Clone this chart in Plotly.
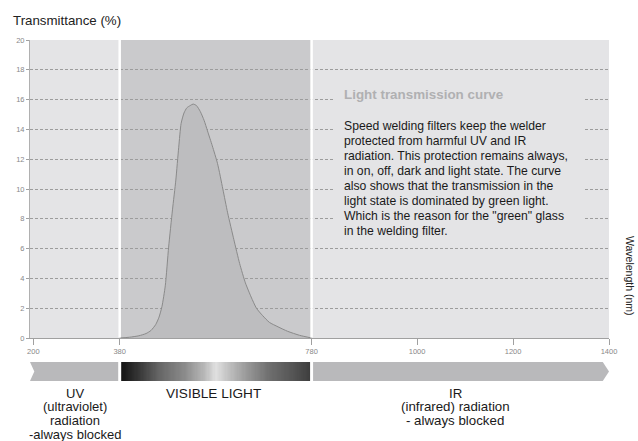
import numpy as np
import plotly.graph_objects as go

# ---------------- data ----------------
WAVELENGTH = [380, 400, 420, 435, 445, 455, 462, 468, 475, 482, 490, 497, 503, 508, 514,
              520, 527, 533, 540, 548, 556, 563, 573, 584, 595, 605, 618, 630, 642, 654,
              665, 678, 692, 710, 730, 755, 780]
TRANSMITTANCE = [0, 0.05, 0.15, 0.3, 0.5, 0.9, 1.4, 2.1, 3.5, 6.1, 8.6, 10.6, 12.8, 14.4, 15.1,
                 15.45, 15.6, 15.7, 15.6, 15.2, 14.6, 13.9, 12.9, 11.7, 10.0, 8.4, 6.6, 5.0, 3.7, 2.75,
                 2.0, 1.5, 1.05, 0.75, 0.45, 0.18, 0]
X_TICKS = [200, 380, 780, 1000, 1200, 1400]
Y_TICKS = [0, 2, 4, 6, 8, 10, 12, 14, 16, 18, 20]
REGION_EDGES = [200, 380, 780, 1400]     # UV | visible | IR
X_RANGE = [193, 1400]
Y_RANGE = [0, 20]
# gradient of the visible-light strip: (relative position, grey level)
GRAD_POS = [0.0, 0.03, 0.1, 0.2, 0.34, 0.44, 0.5, 0.55, 0.66, 0.78, 0.9, 1.0]
GRAD_GREY = [18, 28, 55, 100, 140, 184, 224, 200, 153, 110, 85, 60]

TITLE = "Transmittance (%)"
X_TITLE = "Wavelength (nm)"
BOX_TITLE = "Light transmission curve"
BOX_LINES = [
    "Speed welding filters keep the welder",
    "protected from harmful UV and IR",
    "radiation. This protection remains always,",
    "in on, off, dark and light state. The curve",
    "also shows that the transmission in the",
    "light state is dominated by green light.",
    "Which is the reason for the \"green\" glass",
    "in the welding filter.",
]
UV_LINES = ["UV", "(ultraviolet)", "radiation", "-always blocked"]
VIS_LINES = ["VISIBLE LIGHT"]
IR_LINES = ["IR", "(infrared) radiation", "- always blocked"]

# ---------------- layout constants ----------------
W, H = 638, 441
ML, MR, MT, MB = 30, 29, 40, 60
PW, PH = W - ML - MR, H - MT - MB
FONT = "Liberation Sans, Arial, Helvetica, sans-serif"
LIGHT_BG = "#e4e4e6"
DARK_BG = "#cacacc"


def px_x(p):
    return (p - ML) / PW


def px_y(p):
    return (H - MB - p) / PH


main_bottom = px_y(338)
band_top = px_y(362)

fig = go.Figure()

# transmission curve
fig.add_trace(go.Scatter(
    x=WAVELENGTH, y=TRANSMITTANCE, mode="lines", fill="tozeroy",
    fillcolor="#bdbdbf", line=dict(color="#8a8a8a", width=1, shape="spline", smoothing=0.6),
    hoverinfo="skip", showlegend=False, xaxis="x", yaxis="y"))

# visible light gradient strip
edges = np.linspace(REGION_EDGES[1], REGION_EDGES[2], 161)
centers = (edges[:-1] + edges[1:]) / 2
colorscale = [[p, f"rgb({g},{g},{g})"] for p, g in zip(GRAD_POS, GRAD_GREY)]
fig.add_trace(go.Heatmap(
    x=edges, y=[0, 1], z=[centers], zmin=REGION_EDGES[1], zmax=REGION_EDGES[2],
    colorscale=colorscale, showscale=False, hoverinfo="skip", xaxis="x", yaxis="y2"))

shapes = []
# background regions
shapes.append(dict(type="rect", xref="x domain", yref="y domain", x0=0, x1=1, y0=0, y1=1,
                   fillcolor=LIGHT_BG, line=dict(width=0), layer="below"))
shapes.append(dict(type="rect", xref="x", yref="y domain", x0=REGION_EDGES[1], x1=REGION_EDGES[2],
                   y0=0, y1=1, fillcolor=DARK_BG, line=dict(width=0), layer="below"))
# white separators in the plot
for xv in REGION_EDGES[1:3]:
    shapes.append(dict(type="line", xref="x", yref="y domain", x0=xv, x1=xv, y0=0.002, y1=1,
                       line=dict(color="white", width=2.5), layer="above"))
# UV band (notched) and IR band (arrow)
x0 = X_RANGE[0]
shapes.append(dict(type="path", xref="x", yref="y2",
                   path=f"M {x0},0 L {REGION_EDGES[1]},0 L {REGION_EDGES[1]},1 L {x0},1 L {x0 + 9},0.5 Z",
                   fillcolor="#b9b9bb", line=dict(width=0), layer="above"))
xe = REGION_EDGES[3]
shapes.append(dict(type="path", xref="x", yref="y2",
                   path=f"M {REGION_EDGES[2]},0 L {xe - 13},0 L {xe},0.5 L {xe - 13},1 L {REGION_EDGES[2]},1 Z",
                   fillcolor="#b9b9bb", line=dict(width=0), layer="above"))
for xv in REGION_EDGES[1:3]:
    shapes.append(dict(type="line", xref="x", yref="y2", x0=xv, x1=xv, y0=0, y1=1,
                       line=dict(color="white", width=3), layer="above"))
# text box masking the grid lines
shapes.append(dict(type="rect", xref="paper", yref="paper", x0=px_x(335), x1=px_x(583),
                   y0=px_y(238), y1=px_y(88), fillcolor=LIGHT_BG, line=dict(width=0), layer="above"))

annotations = []
annotations.append(dict(text=TITLE, xref="paper", yref="paper", x=px_x(11), y=px_y(20),
                        xanchor="left", yanchor="middle", showarrow=False,
                        font=dict(family=FONT, size=13.3, color="#222")))
annotations.append(dict(text=X_TITLE, xref="paper", yref="paper", x=px_x(630), y=px_y(276),
                        xanchor="center", yanchor="middle", showarrow=False, textangle=90,
                        font=dict(family=FONT, size=10.5, color="#222")))
annotations.append(dict(text="<b>" + BOX_TITLE + "</b>", xref="paper", yref="paper", x=px_x(342), y=px_y(95),
                        xanchor="left", yanchor="middle", showarrow=False,
                        font=dict(family=FONT, size=13.4, color="#b0b0b2")))
for i, line in enumerate(BOX_LINES):
    annotations.append(dict(text=line, xref="paper", yref="paper", x=px_x(342), y=px_y(125.7 + 15 * i),
                            xanchor="left", yanchor="middle", showarrow=False,
                            font=dict(family=FONT, size=12.2, color="#1a1a1a")))


def add_block(lines, cx, y_first, step, size):
    for i, line in enumerate(lines):
        annotations.append(dict(text=line, xref="paper", yref="paper", x=px_x(cx), y=px_y(y_first + step * i),
                                xanchor="center", yanchor="middle", showarrow=False,
                                font=dict(family=FONT, size=size, color="#1a1a1a")))


add_block(UV_LINES, 75, 393, 13.7, 13)
add_block(VIS_LINES, 213, 393, 13.7, 13.6)
add_block(IR_LINES, 455, 393, 13.9, 13.3)

fig.update_layout(
    width=W, height=H, margin=dict(l=ML, r=MR, t=MT, b=MB, pad=0),
    paper_bgcolor="white", plot_bgcolor="white",
    shapes=shapes, annotations=annotations, showlegend=False,
    xaxis=dict(range=X_RANGE, domain=[0, 1], anchor="y", tickmode="array", tickvals=X_TICKS,
               ticktext=[str(v) for v in X_TICKS], tickfont=dict(family=FONT, size=7.5, color="#888"),
               ticks="outside", ticklen=6, tickcolor="#a0a0a0", tickwidth=1,
               showline=True, linecolor="#a0a0a0", linewidth=1, showgrid=False, zeroline=False),
    yaxis=dict(range=Y_RANGE, domain=[main_bottom, 1], anchor="x", tickmode="array", tickvals=Y_TICKS,
               tickfont=dict(family=FONT, size=7.5, color="#888"),
               ticks="outside", ticklen=3, tickcolor="#a0a0a0",
               showline=True, linecolor="#b0b0b0", linewidth=1,
               showgrid=True, gridcolor="#9c9c9c", gridwidth=1, griddash="3px,2px", zeroline=False),
    yaxis2=dict(range=[0, 1], domain=[0, band_top], anchor="x", visible=False, fixedrange=True),
)

fig.write_html("out.html", config={"displayModeBar": False},
               post_script="document.body.style.margin='0px';")
